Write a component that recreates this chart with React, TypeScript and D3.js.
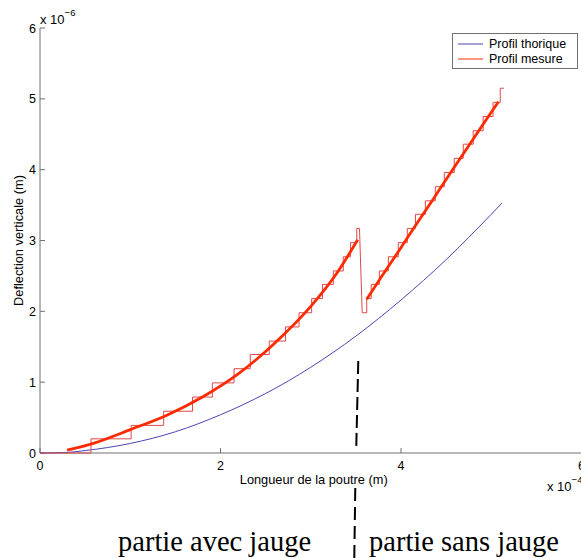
import React from "react";
import * as d3 from "d3";

// Units: x in 1e-4 m, y in 1e-6 m
const xTicks = [0, 2, 4, 6];
const yTicks = [0, 1, 2, 3, 4, 5, 6];

// Theoretical profile (blue)
const theoX = [0, 0.3, 0.5, 1, 1.5, 2, 2.5, 3, 3.5, 4, 4.5, 5, 5.12];
const theoY = [0, 0.008, 0.034, 0.135, 0.30, 0.54, 0.84, 1.21, 1.65, 2.16, 2.73, 3.37, 3.53];

// Measured staircase (thin red): step start, step end, level
const stepStart = [0, 0.565, 1.01, 1.37, 1.69, 1.91, 2.15, 2.33, 2.54, 2.72, 2.87, 3.01, 3.13, 3.25, 3.36, 3.44, 3.51, 3.57, 3.62, 3.67, 3.76, 3.86, 3.97, 4.07, 4.16, 4.27, 4.38, 4.48, 4.59, 4.69, 4.80, 4.91, 5.02, 5.10];
const stepEnd = [0.565, 1.01, 1.37, 1.69, 1.91, 2.15, 2.33, 2.54, 2.72, 2.87, 3.01, 3.13, 3.25, 3.36, 3.44, 3.51, 3.54, 3.62, 3.67, 3.76, 3.86, 3.97, 4.07, 4.16, 4.27, 4.38, 4.48, 4.59, 4.69, 4.80, 4.91, 5.02, 5.10, 5.14];
const stepLevel = [0, 0.2, 0.39, 0.59, 0.79, 0.99, 1.19, 1.39, 1.58, 1.78, 1.98, 2.18, 2.38, 2.57, 2.77, 2.97, 3.17, 1.98, 2.18, 2.38, 2.57, 2.77, 2.97, 3.17, 3.37, 3.56, 3.76, 3.96, 4.16, 4.36, 4.55, 4.75, 4.95, 5.15];

// Smoothed measured profile (thick red), two parts
const fitX1 = [0.30, 0.6, 1.0, 1.4, 1.8, 2.2, 2.6, 3.0, 3.3, 3.52];
const fitY1 = [0.04, 0.14, 0.33, 0.53, 0.79, 1.12, 1.55, 2.07, 2.56, 3.01];
const fitX2 = [3.62, 3.80, 3.99, 4.17, 4.36, 4.54, 4.73, 4.91, 5.08];
const fitY2 = [2.17, 2.52, 2.88, 3.23, 3.59, 3.94, 4.30, 4.64, 4.96];

const gaugeBoundary = 3.51;
const legendLabels = ["Profil thorique", "Profil mesure"];
const partLabels = ["partie avec jauge", "partie sans jauge"];

const W = 581;
const H = 558;
const BLUE = "#4848b0";
const RED_THIN = "#e04848";
const RED = "#ff2a00";
const AXIS = "#707070";
const SANS = "'Liberation Sans', Arial, Helvetica, sans-serif";
const SERIF = "'Liberation Serif', 'Times New Roman', serif";

export default function App() {
  const x = d3.scaleLinear().domain([0, 6]).range([40, 581.5]);
  const y = d3.scaleLinear().domain([0, 6]).range([453, 28]);

  const line = d3
    .line<[number, number]>()
    .x((d) => x(d[0]))
    .y((d) => y(d[1]));
  const smooth = d3
    .line<[number, number]>()
    .x((d) => x(d[0]))
    .y((d) => y(d[1]))
    .curve(d3.curveMonotoneX);

  const theoPts = theoX.map((v, i) => [v, theoY[i]] as [number, number]);
  const stairPts: [number, number][] = [];
  stepStart.forEach((s, i) => {
    stairPts.push([s, stepLevel[i]]);
    stairPts.push([stepEnd[i], stepLevel[i]]);
  });
  const fit1 = fitX1.map((v, i) => [v, fitY1[i]] as [number, number]);
  const fit2 = fitX2.map((v, i) => [v, fitY2[i]] as [number, number]);

  const gx = x(gaugeBoundary);

  return (
    <svg
      width={W}
      height={H}
      style={{ position: "absolute", left: 0, top: 0, background: "#fff" }}
    >
      <rect x={0} y={0} width={W} height={H} fill="#fff" />
      {/* axes */}
      <line x1={x(0)} x2={x(6)} y1={y(0)} y2={y(0)} stroke={AXIS} strokeWidth={1} />
      <line x1={x(0)} x2={x(0)} y1={y(0)} y2={y(6)} stroke={AXIS} strokeWidth={1} />
      {yTicks.map((t) => (
        <g key={"y" + t}>
          <line x1={x(0)} x2={x(0) + 5} y1={y(t)} y2={y(t)} stroke={AXIS} />
          <text x={x(0) - 4} y={y(t) + 4.5} textAnchor="end" fontFamily={SANS} fontSize={12.5} fill="#000">
            {t}
          </text>
        </g>
      ))}
      {xTicks.map((t) => (
        <g key={"x" + t}>
          <line x1={x(t)} x2={x(t)} y1={y(0)} y2={y(0) - 5} stroke={AXIS} />
          <text x={x(t)} y={y(0) + 17} textAnchor="middle" fontFamily={SANS} fontSize={12.5} fill="#000">
            {t}
          </text>
        </g>
      ))}
      {/* exponent labels */}
      <text x={x(0)} y={24} fontFamily={SANS} fontSize={13} fill="#000">
        x 10
        <tspan dy={-8} fontSize={9.5}>−6</tspan>
      </text>
      <text x={547} y={491} fontFamily={SANS} fontSize={13} fill="#000">
        x 10
        <tspan dy={-8} fontSize={9.5}>−4</tspan>
      </text>
      {/* axis titles */}
      <text x={(x(0) + x(6)) / 2 + 3} y={484} textAnchor="middle" fontFamily={SANS} fontSize={12.8} fill="#000">
        Longueur de la poutre (m)
      </text>
      <text
        transform={`translate(23,${(y(0) + y(6)) / 2}) rotate(-90)`}
        textAnchor="middle"
        fontFamily={SANS}
        fontSize={12.8}
        fill="#000"
      >
        Deflection verticale (m)
      </text>

      {/* data */}
      <path d={smooth(theoPts) || ""} fill="none" stroke={BLUE} strokeWidth={1} />
      <path d={line(stairPts) || ""} fill="none" stroke={RED_THIN} strokeWidth={1} />
      <path d={smooth(fit1) || ""} fill="none" stroke={RED} strokeWidth={2.8} />
      <path d={smooth(fit2) || ""} fill="none" stroke={RED} strokeWidth={2.8} />

      {/* legend */}
      <rect x={452.5} y={33.5} width={125} height={35} fill="#fff" stroke={AXIS} strokeWidth={1} />
      <line x1={458} x2={483} y1={44} y2={44} stroke={BLUE} strokeWidth={1} />
      <line x1={458} x2={483} y1={59} y2={59} stroke={RED} strokeWidth={1} />
      <text x={489} y={48} fontFamily={SANS} fontSize={12.5} fill="#000">
        {legendLabels[0]}
      </text>
      <text x={489} y={63} fontFamily={SANS} fontSize={12.5} fill="#000">
        {legendLabels[1]}
      </text>

      {/* gauge boundary annotation */}
      <line
        x1={gx + 1.5}
        y1={y(1.3)}
        x2={gx - 0.5}
        y2={y(0.09)}
        stroke="#000"
        strokeWidth={2}
        strokeDasharray="13 5"
      />
      <line x1={gx - 1.5} y1={488} x2={gx - 2.5} y2={H} stroke="#000" strokeWidth={2} strokeDasharray="13 6" />
      <text x={118} y={551} fontFamily={SERIF} fontSize={28.5} fill="#000">
        {partLabels[0]}
      </text>
      <text x={369} y={551} fontFamily={SERIF} fontSize={28.5} fill="#000">
        {partLabels[1]}
      </text>
    </svg>
  );
}
